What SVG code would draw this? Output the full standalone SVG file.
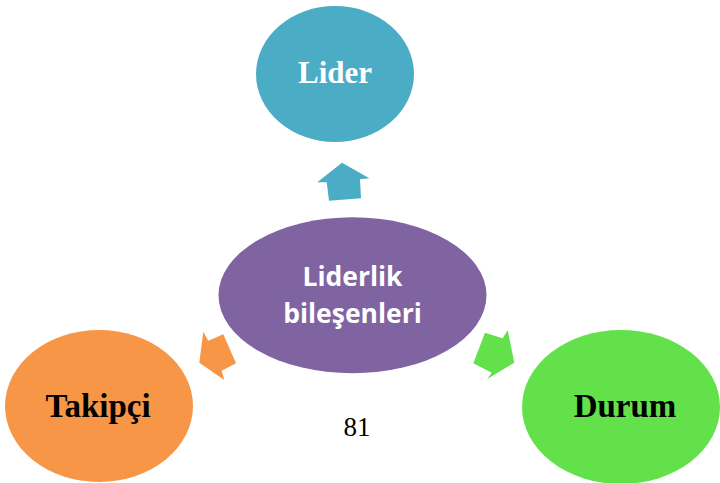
<svg xmlns="http://www.w3.org/2000/svg" width="720" height="483" viewBox="0 0 720 483">
<style>
.serif{font-family:"Liberation Serif","Times New Roman",serif;font-weight:bold;text-anchor:middle}
.sans{font-family:"Open Sans","Liberation Sans",sans-serif;font-weight:bold;text-anchor:middle;fill:#fff;font-size:26.5px}
</style>
<rect width="720" height="483" fill="#fff"/>
<g id="connectors">
<polygon fill="#4BACC6" points="342,162.7 369.3,178.3 360,179.3 361,198.3 329,200.7 326.7,182.3 317.3,182.3"/>
<polygon fill="#F79646" points="199.3,362.7 203.3,331.7 208.3,340.7 223.3,334.3 236,363.3 221.7,370.7 224.3,380"/>
<polygon fill="#62E14B" points="514.3,362.7 507.7,330 502.7,338.3 485,332.7 473.3,363.3 491.7,372.7 487.3,379"/>
</g>
<g id="lider">
<ellipse cx="335" cy="74" rx="79" ry="68" fill="#4BACC6"/>
<text class="serif" x="335" y="83" font-size="31" fill="#fff">Lider</text>
</g>
<g id="center">
<ellipse cx="352.5" cy="295.3" rx="134" ry="78" fill="#8064A2"/>
<text class="sans" x="352.5" y="286">Liderlik</text>
<text class="sans" x="352.5" y="322.7">bileşenleri</text>
</g>
<g id="takipci">
<ellipse cx="99" cy="406" rx="94" ry="76" fill="#F79646"/>
<text class="serif" x="98" y="416.7" font-size="33" fill="#000">Takipçi</text>
</g>
<g id="durum">
<ellipse cx="621" cy="407" rx="99" ry="77" fill="#62E14B"/>
<text class="serif" x="625" y="417.3" font-size="33" fill="#000">Durum</text>
</g>
<text x="357" y="435.7" font-family="Liberation Serif,Times New Roman,serif" font-size="27" text-anchor="middle" fill="#000">81</text>
</svg>
